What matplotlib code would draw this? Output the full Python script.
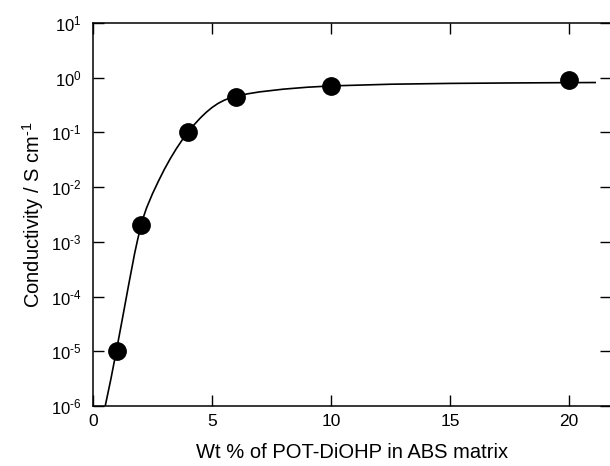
import matplotlib
matplotlib.use("Agg")
import matplotlib.pyplot as plt
import numpy as np

plt.rcParams['font.family'] = ['Liberation Sans', 'DejaVu Sans']
plt.rcParams['mathtext.fontset'] = 'custom'
plt.rcParams['mathtext.rm'] = 'Liberation Sans'
plt.rcParams['mathtext.it'] = 'Liberation Sans:italic'

# measured points
wt_pct = [1, 2, 4, 6, 10, 20]
conductivity = [1e-5, 2e-3, 0.1, 0.45, 0.72, 0.92]

# fitted curve (x, log10 sigma)
curve_x = [0.48, 0.75, 1.0, 1.25, 1.5, 1.75, 1.875, 2.0, 2.125, 2.25, 2.5, 2.75, 3.0,
           3.25, 3.5, 3.75, 4.0, 4.25, 4.5, 4.75, 5.0, 5.25, 5.5, 5.75, 6.0, 6.5,
           7.0, 8.0, 9.0, 10.0, 12.5, 15.0, 17.5, 20.0, 21.1]
curve_log = [-6.07, -5.51, -4.95, -4.37, -3.78, -3.21, -2.96, -2.73, -2.54, -2.38,
             -2.12, -1.89, -1.673, -1.477, -1.298, -1.136, -0.99, -0.859, -0.74,
             -0.635, -0.545, -0.471, -0.414, -0.37, -0.339, -0.294, -0.259, -0.209,
             -0.174, -0.15, -0.119, -0.104, -0.096, -0.09, -0.088]

y_ticks = [1e-6, 1e-5, 1e-4, 1e-3, 1e-2, 1e-1, 1e0, 1e1]
y_ticklabels = [r'$\mathregular{10^{‐6}}$', r'$\mathregular{10^{‐5}}$', r'$\mathregular{10^{‐4}}$',
                r'$\mathregular{10^{‐3}}$', r'$\mathregular{10^{‐2}}$', r'$\mathregular{10^{‐1}}$',
                r'$\mathregular{10^{0}}$', r'$\mathregular{10^{1}}$']
x_ticks = [0, 5, 10, 15, 20]

fig = plt.figure(figsize=(6.1, 4.66), dpi=100)
ax = fig.add_axes([93 / 610, 60 / 466, 518 / 610, 383 / 466])

ax.plot(curve_x, 10 ** np.array(curve_log), color='black', lw=1.2)
ax.plot(wt_pct, conductivity, 'o', color='black', markersize=12.5)

ax.set_yscale('log')
ax.set_xlim(0, 518 / 23.8)
ax.set_ylim(1e-6, 1e1)
ax.set_yticks(y_ticks)
ax.set_yticklabels(y_ticklabels)
ax.minorticks_off()
ax.set_xticks(x_ticks)

ax.tick_params(direction='in', length=8, width=1.0, labelsize=12.5,
               top=True, right=True)
ax.tick_params(axis='y', pad=8, labelsize=12)
ax.tick_params(axis='x', pad=6)
for side in ['left', 'bottom', 'top']:
    ax.spines[side].set_linewidth(1.1)
ax.spines['right'].set_visible(False)

ax.set_xlabel('Wt % of POT-DiOHP in ABS matrix', fontsize=14.5, labelpad=10)
ax.set_ylabel('Conductivity / S cm$^{\\mathregular{‐1}}$', fontsize=14.5, labelpad=4)

fig.savefig('out.png', dpi=100)
